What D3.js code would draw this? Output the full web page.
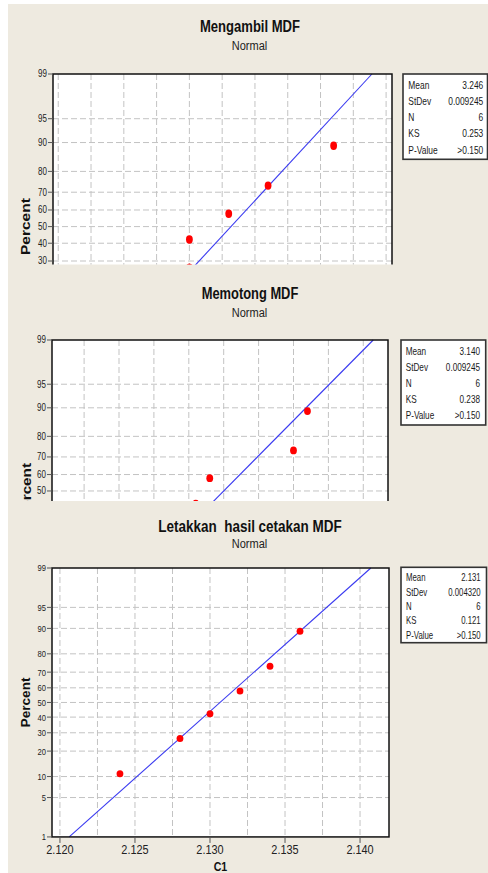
<!DOCTYPE html>
<html>
<head>
<meta charset="utf-8">
<script src="https://cdn.jsdelivr.net/npm/d3@7"></script>
<style>
  html, body { margin: 0; padding: 0; background: #fff; }
  svg { display: block; }
  text { font-family: "Liberation Sans", Arial, sans-serif; }
</style>
</head>
<body>
<svg id="chart" width="488" height="873"></svg>
<script>
// ---------- data ----------
const panelTitles = ["Mengambil MDF", "Memotong MDF", "Letakkan  hasil cetakan MDF"];
const distributionName = "Normal";

// measured values (C1) of each process step
const valuesMengambil = [3.238, 3.240, 3.240, 3.246, 3.252, 3.262];
const valuesMemotong  = [3.128, 3.136, 3.136, 3.138, 3.150, 3.152];
const valuesLetakkan  = [2.124, 2.128, 2.130, 2.132, 2.134, 2.136];

// plotted cumulative percent of the ordered observations
const plotPercents = [10.9, 26.6, 42.2, 57.8, 73.4, 89.1];

const percentTicks = [1, 5, 10, 20, 30, 40, 50, 60, 70, 80, 90, 95, 99];
const percentGrid  = [5, 10, 20, 30, 40, 50, 60, 70, 80, 90, 95];

const statLabels     = ["Mean", "StDev", "N", "KS", "P-Value"];
const statsMengambil = ["3.246", "0.009245", "6", "0.253", ">0.150"];
const statsMemotong  = ["3.140", "0.009245", "6", "0.238", ">0.150"];
const statsLetakkan  = ["2.131", "0.004320", "6", "0.121", ">0.150"];

const xGridMengambil = [3.220, 3.225, 3.230, 3.235, 3.240, 3.245, 3.250, 3.255, 3.260, 3.265, 3.270];
const xGridMemotong  = [3.120, 3.125, 3.130, 3.135, 3.140, 3.145, 3.150, 3.155, 3.160];
const xGridLetakkan  = [2.1200, 2.1225, 2.1250, 2.1275, 2.1300, 2.1325, 2.1350, 2.1375, 2.1400];
const xTicksLetakkan = [2.120, 2.125, 2.130, 2.135, 2.140];

const xAxisTitle = "C1";
const yAxisTitle = "Percent";

// ---------- layout ----------
const layouts = [
  { title: panelTitles[0], values: valuesMengambil, stats: statsMengambil, xGrid: xGridMengambil, xTicks: null,
    left: 53, right: 392, top: 74, zUnit: 65.6, clipBottom: 264.5, xDomain: [3.2192, 3.2709],
    titleY: 32, titleW: 100, subY: 50, labelX: 30, labelW: 57, tickFont: 10, dotRy: 4.2,
    box: { x: 403, y: 74, w: 84.5, h: 85.3, row0: 85, step: 16.25, tx: 408.3, vx: 483.3, font: 10.8 } },
  { title: panelTitles[1], values: valuesMemotong, stats: statsMemotong, xGrid: xGridMemotong, xTicks: null,
    left: 52, right: 388, top: 340, zUnit: 64.9, clipBottom: 501, xDomain: [3.1154, 3.16354],
    titleY: 299.3, titleW: 96.6, subY: 317.3, labelX: 31, labelW: 56, tickFont: 10, dotRy: 3.9,
    box: { x: 401, y: 340, w: 84.7, h: 85, row0: 351, step: 16.2, tx: 405.7, vx: 480, font: 10.5 } },
  { title: panelTitles[2], values: valuesLetakkan, stats: statsLetakkan, xGrid: xGridLetakkan, xTicks: xTicksLetakkan,
    left: 52, right: 389, top: 568, zUnit: 57.8, clipBottom: 873, xDomain: [2.11947, 2.14193],
    titleY: 531.7, titleW: 183.4, subY: 547.7, labelX: 29.5, labelW: 50, tickFont: 9.5, dotRy: 3.5,
    box: { x: 401, y: 567.3, w: 85.5, h: 75.4, row0: 577.7, step: 14.3, tx: 406, vx: 480.7, font: 10 } }
];

// ---------- helpers ----------
// inverse of the standard normal CDF (Acklam's rational approximation)
function probit(p) {
  const a = [-3.969683028665376e+01, 2.209460984245205e+02, -2.759285104469687e+02,
             1.383577518672690e+02, -3.066479806614716e+01, 2.506628277459239e+00];
  const b = [-5.447609879822406e+01, 1.615858368580409e+02, -1.556989798598866e+02,
             6.680131188771972e+01, -1.328068155288572e+01];
  const c = [-7.784894002430293e-03, -3.223964580411365e-01, -2.400758277161838e+00,
             -2.549732539343734e+00, 4.374664141464968e+00, 2.938163982698783e+00];
  const d = [7.784695709041462e-03, 3.224671290700398e-01, 2.445134137142996e+00,
             3.754408661907416e+00];
  const pl = 0.02425, ph = 1 - pl;
  let q, r;
  if (p < pl) {
    q = Math.sqrt(-2 * Math.log(p));
    return (((((c[0]*q+c[1])*q+c[2])*q+c[3])*q+c[4])*q+c[5]) / ((((d[0]*q+d[1])*q+d[2])*q+d[3])*q+1);
  }
  if (p <= ph) {
    q = p - 0.5; r = q * q;
    return (((((a[0]*r+a[1])*r+a[2])*r+a[3])*r+a[4])*r+a[5])*q / (((((b[0]*r+b[1])*r+b[2])*r+b[3])*r+b[4])*r+1);
  }
  q = Math.sqrt(-2 * Math.log(1 - p));
  return -(((((c[0]*q+c[1])*q+c[2])*q+c[3])*q+c[4])*q+c[5]) / ((((d[0]*q+d[1])*q+d[2])*q+d[3])*q+1);
}

// squeeze text horizontally to a narrower face
function condense(sel, k) {
  sel.each(function () {
    const w = this.getComputedTextLength();
    d3.select(this).attr("textLength", w * k).attr("lengthAdjust", "spacingAndGlyphs");
  });
}
function fitWidth(sel, w) {
  sel.attr("textLength", w).attr("lengthAdjust", "spacingAndGlyphs");
}
// condensed text placed through a transform so its box stays exact
function narrowText(parent, x, y, str, opts) {
  return parent.append("text")
    .attr("transform", `translate(${x},${y}) scale(${opts.k},1)`)
    .attr("text-anchor", opts.anchor || "start")
    .attr("font-size", opts.size).attr("fill", opts.fill || "#1a1a1a")
    .text(str);
}

// ---------- drawing ----------
const svg = d3.select("#chart");
const bg = "#eeeae0";

svg.append("rect").attr("x", 8).attr("y", 4).attr("width", 480).attr("height", 869).attr("fill", bg);

const zMax = probit(0.99);

layouts.forEach((L, i) => {
  const clipId = "panelClip" + i;
  svg.append("clipPath").attr("id", clipId)
    .append("rect").attr("x", 0).attr("y", 0).attr("width", 488).attr("height", L.clipBottom);

  const g = svg.append("g").attr("clip-path", `url(#${clipId})`);

  const bottom = L.top + 2 * zMax * L.zUnit;
  const x = d3.scaleLinear().domain(L.xDomain).range([L.left, L.right]);
  const zScale = d3.scaleLinear().domain([zMax, -zMax]).range([L.top, bottom]);
  const y = p => zScale(probit(p / 100));

  // titles
  g.append("text").attr("x", 250).attr("y", L.titleY).attr("text-anchor", "middle")
    .attr("font-size", 16).attr("font-weight", "bold").attr("fill", "#111")
    .style("white-space", "pre")
    .text(L.title).call(fitWidth, L.titleW);
  g.append("text").attr("x", 249.5).attr("y", L.subY).attr("text-anchor", "middle")
    .attr("font-size", 12).attr("fill", "#222")
    .text(distributionName).call(fitWidth, 35.5);

  // plot area
  g.append("rect").attr("x", L.left).attr("y", L.top)
    .attr("width", L.right - L.left).attr("height", bottom - L.top).attr("fill", "#fff");

  // grid
  g.append("g").selectAll("line").data(percentGrid).join("line")
    .attr("x1", L.left).attr("x2", L.right)
    .attr("y1", d => y(d)).attr("y2", d => y(d))
    .attr("stroke", "#c3c3c3").attr("stroke-width", 1).attr("stroke-dasharray", "6,3");
  g.append("g").selectAll("line").data(L.xGrid).join("line")
    .attr("x1", d => x(d)).attr("x2", d => x(d))
    .attr("y1", L.top).attr("y2", bottom)
    .attr("stroke", "#c3c3c3").attr("stroke-width", 1).attr("stroke-dasharray", "6,3");

  // fitted normal line from the sample mean and standard deviation
  const mu = d3.mean(L.values), sd = d3.deviation(L.values);
  const fitPct = [1, 99];
  g.append("line")
    .attr("x1", x(mu + probit(fitPct[0] / 100) * sd)).attr("y1", y(fitPct[0]))
    .attr("x2", x(mu + probit(fitPct[1] / 100) * sd)).attr("y2", y(fitPct[1]))
    .attr("stroke", "#3a3af0").attr("stroke-width", 1.1);

  // observations
  g.append("g").selectAll("ellipse").data(L.values).join("ellipse")
    .attr("cx", d => x(d)).attr("cy", (d, j) => y(plotPercents[j]))
    .attr("rx", 3.4).attr("ry", L.dotRy).attr("fill", "#ff0000");

  // frame
  g.append("rect").attr("x", L.left).attr("y", L.top)
    .attr("width", L.right - L.left).attr("height", bottom - L.top)
    .attr("fill", "none").attr("stroke", "#111").attr("stroke-width", 1.5);

  // y axis ticks and labels (only those inside the visible part of the panel)
  const shownTicks = percentTicks.filter(d => y(d) - 4 < L.clipBottom);
  const yt = g.append("g");
  yt.selectAll("line").data(shownTicks).join("line")
    .attr("x1", L.left - 5).attr("x2", L.left).attr("y1", d => y(d)).attr("y2", d => y(d))
    .attr("stroke", "#555").attr("stroke-width", 1);
  yt.selectAll("text").data(shownTicks).join("text")
    .attr("x", L.left - 6).attr("y", d => y(d) + 3.4).attr("text-anchor", "end")
    .attr("font-size", L.tickFont).attr("fill", "#222")
    .text(d => d).call(condense, 0.8);

  g.append("text")
    .attr("transform", `translate(${L.labelX},${y(50)}) rotate(-90)`)
    .attr("text-anchor", "middle").attr("font-size", 13).attr("font-weight", "bold").attr("fill", "#111")
    .text(yAxisTitle).call(fitWidth, L.labelW);

  // x axis (only the last panel shows it)
  if (L.xTicks) {
    const xt = g.append("g");
    xt.selectAll("line").data(L.xTicks).join("line")
      .attr("x1", d => x(d)).attr("x2", d => x(d)).attr("y1", bottom).attr("y2", bottom + 6)
      .attr("stroke", "#555").attr("stroke-width", 1);
    xt.selectAll("text").data(L.xTicks).join("text")
      .attr("x", d => x(d)).attr("y", bottom + 17.5).attr("text-anchor", "middle")
      .attr("font-size", 12.5).attr("fill", "#222")
      .text(d => d3.format(".3f")(d)).call(fitWidth, 27.3);
    xt.append("text").attr("x", (L.left + L.right) / 2).attr("y", bottom + 34.5)
      .attr("text-anchor", "middle").attr("font-size", 13).attr("font-weight", "bold").attr("fill", "#111")
      .text(xAxisTitle).call(fitWidth, 13.5);
  }

  // statistics box
  const B = L.box;
  g.append("rect").attr("x", B.x).attr("y", B.y).attr("width", B.w).attr("height", B.h)
    .attr("fill", "#fff").attr("stroke", "#333").attr("stroke-width", 1.6);
  const sg = g.append("g");
  statLabels.forEach((lab, j) => {
    const yy = B.row0 + j * B.step + 3.6;
    narrowText(sg, B.tx, yy, lab, { k: 0.78, size: B.font });
    narrowText(sg, B.vx, yy, L.stats[j], { k: 0.78, size: B.font, anchor: "end" });
  });
});
</script>
</body>
</html>
